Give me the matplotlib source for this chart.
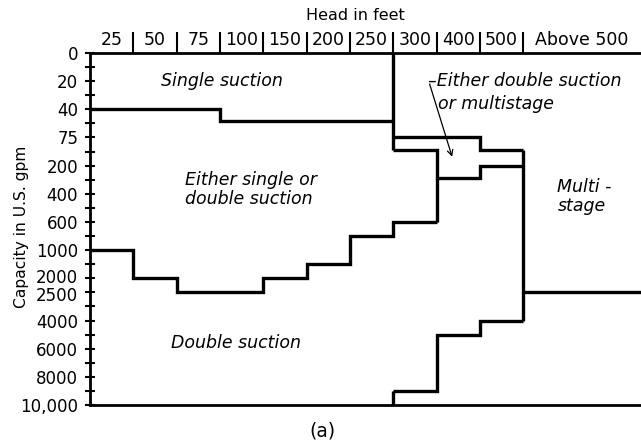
import numpy as np
import matplotlib
matplotlib.use("Agg")
import matplotlib.pyplot as plt
from matplotlib.transforms import ScaledTranslation

# capacity scale (gpm) -> evenly spaced rows on the chart
cap_ticks = [0, 20, 40, 75, 200, 400, 600, 1000, 2000, 2500, 4000, 6000, 8000, 10000]
cap_rows = [0, 1, 2, 3, 4, 5, 6, 7, 8, 8.5, 9.5, 10.5, 11.5, 12.5]
cap_labels = ["0", "20", "40", "75", "200", "400", "600", "1000", "2000", "2500",
              "4000", "6000", "8000", "10,000"]

# head columns (ft); beyond 500 one column per 100 ft
head_edges = [0, 25, 50, 75, 100, 150, 200, 250, 300, 400, 500, 800]
head_cols = [0, 1, 2, 3, 4, 5, 6, 7, 8, 9, 10, 13]
head_labels = ["25", "50", "75", "100", "150", "200", "250", "300", "400", "500", "Above 500"]
head_max = 772

# boundaries: head edges (ft) and capacity levels (gpm)
single_edges = [0, 75, 250]
single_caps = [40, 55]
box_top_edges = [250, 400, 500]
box_top_caps = [75, 130]
box_bot_edges = [250, 300, 400, 500]
box_bot_caps = [130, 290, 200]
double_edges = [0, 25, 50, 100, 150, 200, 250, 300]
double_caps = [1000, 2000, 2500, 2000, 1500, 800, 600]
multi_edges = [250, 300, 400, 500]
multi_caps = [9000, 5000, 4000]
multi_line_cap = 2500


def cap_fwd(v):
    return np.interp(v, cap_ticks, cap_rows)


def cap_inv(p):
    return np.interp(p, cap_rows, cap_ticks)


def head_fwd(v):
    return np.interp(v, head_edges, head_cols)


def head_inv(p):
    return np.interp(p, head_cols, head_edges)


plt.rcParams['font.family'] = 'DejaVu Sans'
fig = plt.figure(figsize=(6.41, 4.46), dpi=100)
ax = fig.add_axes([90 / 641, 41 / 446, 551 / 641, 352 / 446])

ax.set_xscale('function', functions=(head_fwd, head_inv))
ax.set_yscale('function', functions=(cap_fwd, cap_inv))
ax.set_xlim(0, head_max)
ax.set_ylim(10000, 0)

lw = 2.4
kw = dict(color='black', lw=lw, baseline=None)
ax.stairs(single_caps, single_edges, **kw)
ax.stairs(box_top_caps, box_top_edges, **kw)
ax.stairs(box_bot_caps, box_bot_edges, **kw)
ax.stairs(double_caps, double_edges, **kw)
ax.stairs(multi_caps, multi_edges, **kw)
ax.vlines(single_edges[-1], 0, box_top_caps[-1], color='black', lw=lw)
ax.vlines(double_edges[-1], box_bot_caps[1], double_caps[-1], color='black', lw=lw)
ax.vlines(box_top_edges[-1], box_top_caps[-1], multi_caps[-1], color='black', lw=lw)
ax.vlines(multi_edges[0], multi_caps[0], 10000, color='black', lw=lw)
ax.hlines(multi_line_cap, box_top_edges[-1], head_max, color='black', lw=lw)

# spines
for s in ['top', 'left', 'bottom']:
    ax.spines[s].set_linewidth(2.0)
ax.spines['right'].set_visible(False)

# y ticks: major with labels, minor halfway between rows
ax.set_yticks(cap_ticks)
ax.set_yticklabels(cap_labels)
mids = [(a + b) / 2 for a, b in zip(cap_rows[:-1], cap_rows[1:]) if b - a >= 1]
ax.set_yticks(cap_inv(np.array(mids)), minor=True)
ax.tick_params(axis='y', which='both', direction='inout', length=7, width=1.5,
               labelsize=12, pad=5)

# the 2000 and 2500 rows sit close together: spread their labels a little
for lab in ax.get_yticklabels():
    if lab.get_text() == "2000":
        lab.set_transform(lab.get_transform() + ScaledTranslation(0, 1.5 / 72, fig.dpi_scale_trans))
    elif lab.get_text() == "2500":
        lab.set_transform(lab.get_transform() + ScaledTranslation(0, -1.5 / 72, fig.dpi_scale_trans))

# x ticks on top: separators at edges, labels in the cells
ax.xaxis.set_ticks_position('top')
ax.xaxis.set_label_position('top')
ax.set_xticks(head_edges[1:11])
ax.set_xticklabels([])
centers = [(a + b) / 2 for a, b in zip(head_cols[:10], head_cols[1:11])]
centers.append((head_cols[10] + head_fwd(head_max)) / 2)
ax.set_xticks(head_inv(np.array(centers)), minor=True)
ax.set_xticklabels(head_labels, minor=True)
ax.tick_params(axis='x', which='major', direction='out', length=15, width=1.5)
ax.tick_params(axis='x', which='minor', length=0, labelsize=12.5, pad=3)

txt = dict(fontsize=12.5, style='italic')
ax.text(76, 20, "Single suction", ha='center', va='center', **txt)
ax.text(55, 370, "Either single or\ndouble suction", ha='left', va='center',
        linespacing=1.1, **txt)
ax.text(84, 5600, "Double suction", ha='center', va='center', **txt)
ax.text(579, 420, "Multi -\nstage", ha='left', va='center', linespacing=1.1, **txt)
ax.text(290, 20, "\u2013Either double suction", ha='left', va='center', **txt)
ax.text(304, 36, "or multistage", ha='left', va='center', **txt)
ax.annotate('', xy=(336, 161), xytext=(292, 22),
            arrowprops=dict(arrowstyle='->', color='black', lw=0.9,
                            shrinkA=0, shrinkB=0))

fig.text(355 / 641, 1 - 15 / 446, "Head in feet", ha='center', va='center', fontsize=11.5)
fig.text(22 / 641, 1 - 227 / 446, "Capacity in U.S. gpm", rotation=90,
         ha='center', va='center', fontsize=11.2)
fig.text(322 / 641, 1 - 431 / 446, "(a)", ha='center', va='center', fontsize=13.5)

fig.savefig("out.png", dpi=100)
